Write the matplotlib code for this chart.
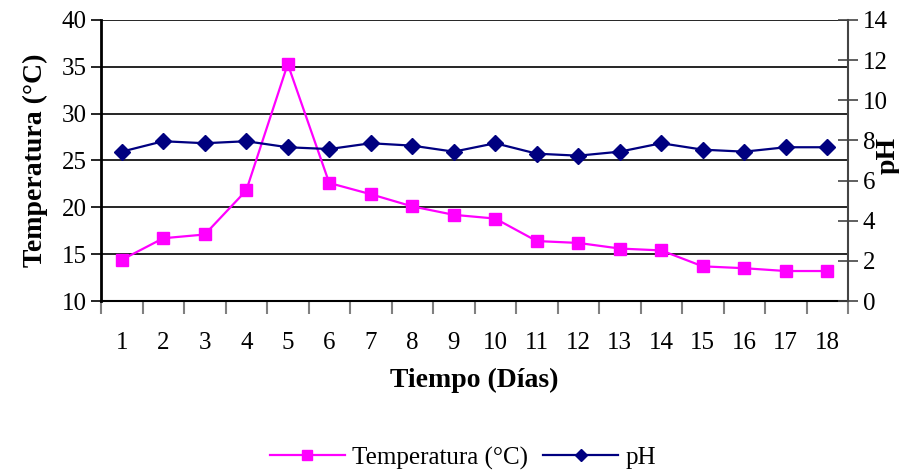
import numpy as np
import matplotlib.pyplot as plt
from matplotlib.lines import Line2D

# datos
dias = list(range(1, 19))
temperatura = [14.4, 16.7, 17.1, 21.8, 35.3, 22.6, 21.4, 20.1, 19.2,
               18.8, 16.4, 16.2, 15.6, 15.4, 13.7, 13.5, 13.2, 13.2]
ph = [7.44, 7.96, 7.86, 7.96, 7.66, 7.57, 7.86, 7.74, 7.44,
      7.86, 7.34, 7.24, 7.44, 7.86, 7.54, 7.44, 7.66, 7.66]
temp_ticks = [10, 15, 20, 25, 30, 35, 40]
ph_ticks = [0, 2, 4, 6, 8, 10, 12, 14]

plt.rcParams["font.family"] = ["Liberation Serif", "DejaVu Serif"]
FS = 18

fig = plt.figure(figsize=(8.99, 4.71), dpi=100)
ax = fig.add_axes([101 / 899, 170 / 471, 747 / 899, 281 / 471])

ax.plot(dias, temperatura, color="#FF00FF", marker="s", markersize=8,
        linewidth=1.6, zorder=3)
ax.set_xlim(0.5, 18.5)
ax.set_ylim(10, 40)
ax.set_yticks(temp_ticks)
ax.tick_params(axis="y", labelsize=FS, direction="out", length=7, width=1.2)
ax.yaxis.grid(True, color="black", linewidth=1.2)
ax.set_axisbelow(True)

# ticks del eje x entre categorías, etiquetas en los enteros
ax.set_xticks(np.arange(0.5, 19, 1))
ax.set_xticklabels([])
ax.set_xticks(dias, minor=True)
ax.set_xticklabels([str(d) for d in dias], minor=True)
ax.tick_params(axis="x", which="major", length=9, width=1.5, color="gray",
               direction="out")
ax.tick_params(axis="x", which="minor", length=0, labelsize=FS, pad=22)

for s in ["top", "right"]:
    ax.spines[s].set_visible(False)
ax.spines["left"].set_linewidth(2)
ax.spines["bottom"].set_linewidth(1.5)

ax.set_ylabel("Temperatura (°C)", fontsize=20, fontweight="bold", labelpad=10)
ax.set_xlabel("Tiempo (Días)", fontsize=20, fontweight="bold", labelpad=10)

ax2 = ax.twinx()
ax2.plot(dias, ph, color="#000080", marker="D", markersize=8,
         linewidth=1.6, zorder=3)
ax2.set_ylim(0, 14)
ax2.set_yticks(ph_ticks)
ax2.tick_params(axis="y", labelsize=FS, direction="inout", length=14,
                width=1.2, color="#444444")
for s in ["top", "left", "bottom"]:
    ax2.spines[s].set_visible(False)
ax2.spines["right"].set_color("#444444")
ax2.spines["right"].set_linewidth(1.5)
ax2.set_ylabel("pH", fontsize=20, fontweight="bold", rotation=90,
               ha="center", va="center")
ax2.yaxis.set_label_coords(888 / 899, 1 - 155 / 471, transform=fig.transFigure)

handles = [
    Line2D([], [], color="#FF00FF", marker="s", markersize=7, linewidth=1.6),
    Line2D([], [], color="#000080", marker="D", markersize=6, linewidth=1.6),
]
fig.legend(handles, ["Temperatura (°C)", "pH"], loc="center",
           bbox_to_anchor=(463 / 899, 1 - 458 / 471), ncol=2, frameon=False,
           fontsize=FS, handlelength=3.0, columnspacing=0.6, handletextpad=0.3)

fig.savefig("out.png", dpi=100)
